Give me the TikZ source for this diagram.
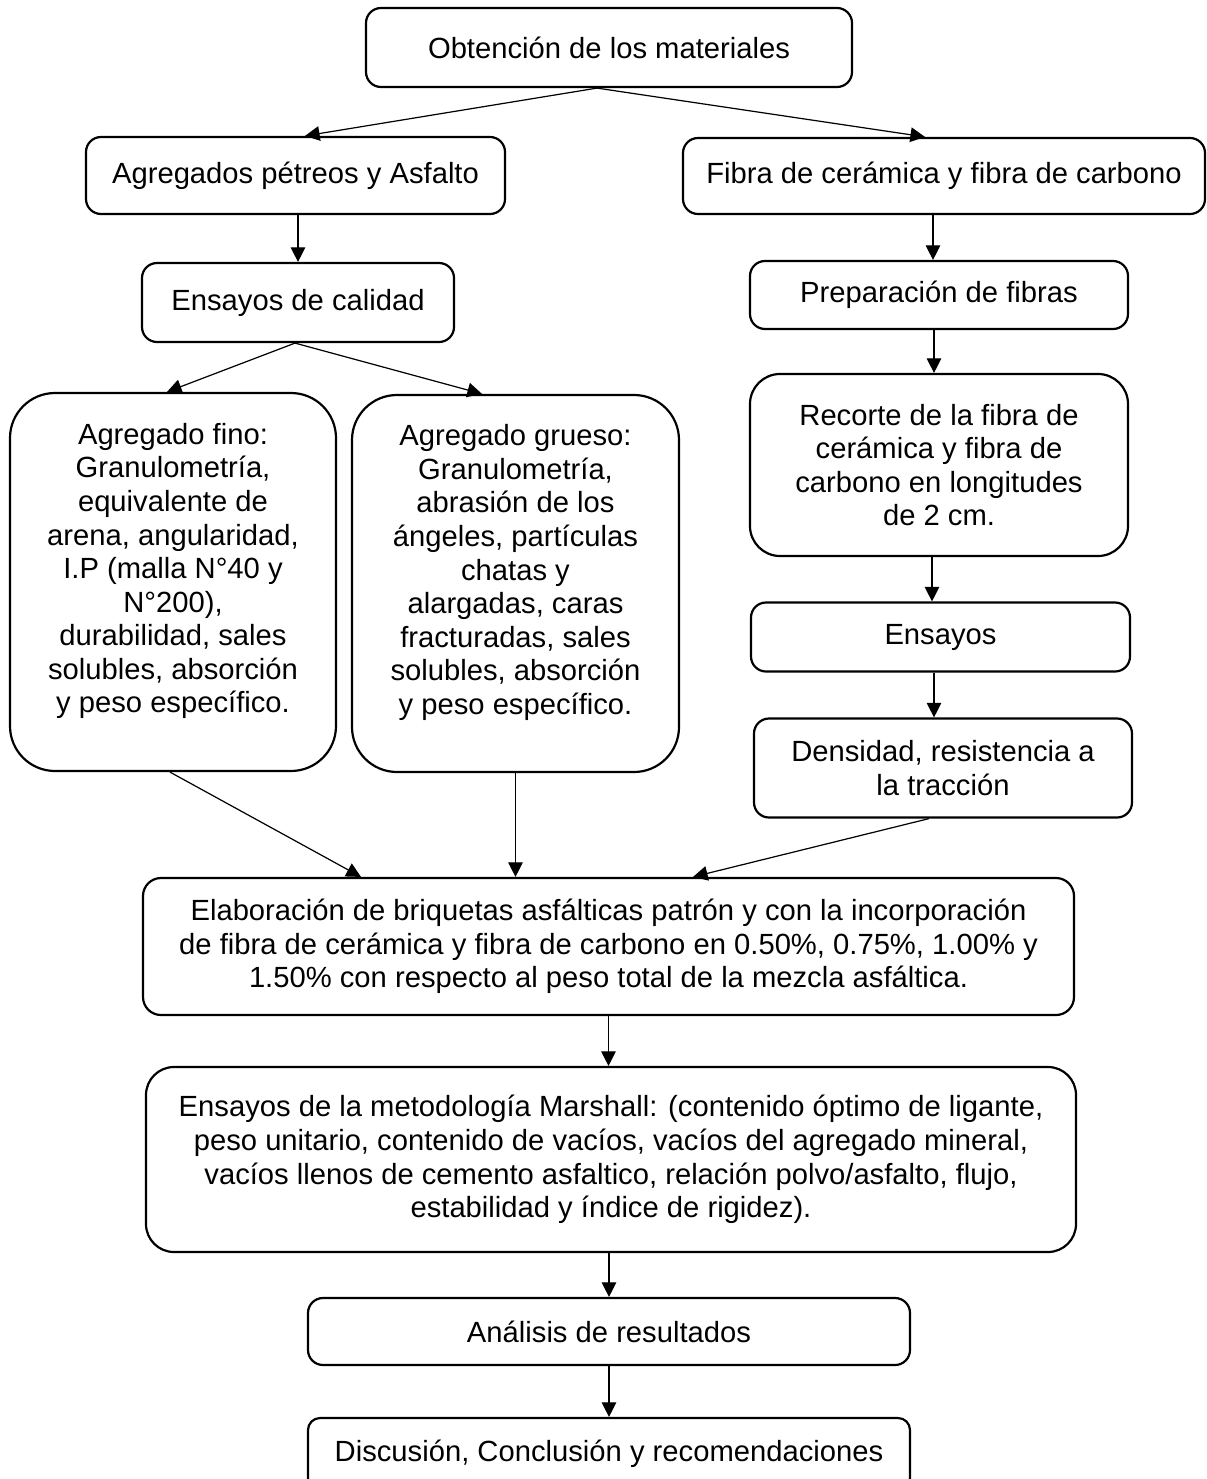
\documentclass[tikz,border=0pt]{standalone}
\usepackage{fontspec}
\setmainfont{Liberation Sans}
\usetikzlibrary{arrows.meta,calc}
\newcommand\pu{0.411pt}
\tikzset{
  box/.style={draw, line width=0.9pt, align=center, inner sep=0pt,
    font=\fontsize{12}{13.8}\selectfont, rounded corners=15*\pu},
  conn/.style={line width=0.5pt, -{Triangle[length=6pt,width=6pt]}}
}
\begin{document}
\begin{tikzpicture}[x=0.411pt, y=-0.411pt]
\useasboundingbox (0,0) rectangle (1206,1479);
\node[box, minimum width=486*\pu, minimum height=79*\pu] (n1) at (609,47.5) {Obtención de los materiales};
\node[box, minimum width=419*\pu, minimum height=77*\pu] (n2) at (295.5,175.5) {Agregados pétreos y Asfalto};
\node[box, minimum width=522*\pu, minimum height=76*\pu] (n3) at (944,176) {Fibra de cerámica y fibra de carbono};
\node[box, minimum width=312*\pu, minimum height=79*\pu] (n4) at (298,302.5) {Ensayos de calidad};
\node[box, minimum width=378*\pu, minimum height=68*\pu] (n5) at (939,295) {Preparación de fibras};
\node[box, rounded corners=45*\pu, text depth=11.5pt, minimum width=326*\pu, minimum height=378*\pu] (n6) at (173,582)
  {Agregado fino:\\Granulometría,\\equivalente de\\arena, angularidad,\\I.P (malla N°40 y\\N°200),\\durabilidad, sales\\solubles, absorción\\y peso específico.};
\node[box, rounded corners=45*\pu, text depth=11.5pt, minimum width=327*\pu, minimum height=377*\pu] (n7) at (515.5,583.5)
  {Agregado grueso:\\Granulometría,\\abrasión de los\\ángeles, partículas\\chatas y\\alargadas, caras\\fracturadas, sales\\solubles, absorción\\y peso específico.};
\node[box, rounded corners=30*\pu, minimum width=378*\pu, minimum height=182*\pu] (n8) at (939,465)
  {Recorte de la fibra de\\cerámica y fibra de\\carbono en longitudes\\de 2 cm.};
\node[box, minimum width=379*\pu, minimum height=69*\pu] (n9) at (940.5,637) {Ensayos};
\node[box, minimum width=378*\pu, minimum height=99*\pu] (n10) at (943,768) {Densidad, resistencia a\\la tracción};
\node[box, rounded corners=18*\pu, minimum width=931*\pu, minimum height=137*\pu] (n11) at (608.5,946.5)
  {Elaboración de briquetas asfálticas patrón y con la incorporación\\de fibra de cerámica y fibra de carbono en 0.50\%, 0.75\%, 1.00\% y\\1.50\% con respecto al peso total de la mezcla asfáltica.};
\node[box, rounded corners=28*\pu, minimum width=930*\pu, minimum height=185*\pu] (n12) at (611,1159.5)
  {Ensayos de la metodología Marshall: (contenido óptimo de ligante,\\peso unitario, contenido de vacíos, vacíos del agregado mineral,\\vacíos llenos de cemento asfaltico, relación polvo/asfalto, flujo,\\estabilidad y índice de rigidez).};
\node[box, minimum width=602*\pu, minimum height=67*\pu] (n13) at (609,1331.5) {Análisis de resultados};
\node[box, rounded corners=12*\pu, minimum width=602*\pu, minimum height=72*\pu] (n14) at (609,1454) {Discusión, Conclusión y recomendaciones};

\draw[conn] ($(n1.south)+(-12,0)$) -- ($(n2.north)+(9.5,0)$);
\draw[conn] ($(n1.south)+(-12,0)$) -- ($(n3.north)+(-19,0)$);
\draw[conn] (n4.north |- n2.south) -- (n4.north);
\draw[conn] ($(n5.north |- n3.south)+(-6,0)$) -- ($(n5.north)+(-6,0)$);
\draw[conn] ($(n4.south)+(-3,0)$) -- ($(n6.north)+(-6,0)$);
\draw[conn] ($(n4.south)+(-3,0)$) -- ($(n7.north)+(-33.5,0)$);
\draw[conn] ($(n5.south)+(-5,0)$) -- ($(n8.north)+(-5,0)$);
\draw[conn] ($(n8.south)+(-7,0)$) -- ($(n9.north)+(-8.5,0)$);
\draw[conn] ($(n9.south)+(-6.5,0)$) -- ($(n10.north)+(-9,0)$);
\draw[conn] ($(n6.south)+(-3,0)$) -- ($(n11.north)+(-247.5,0)$);
\draw[conn] (n7.south) -- (n7.south |- n11.north);
\draw[conn] ($(n10.south)+(-14,0)$) -- ($(n11.north)+(84.5,0)$);
\draw[conn] (n11.south) -- (n11.south |- n12.north);
\draw[conn] (n13.north |- n12.south) -- (n13.north);
\draw[conn] (n13.south) -- (n14.north);
\end{tikzpicture}
\end{document}
